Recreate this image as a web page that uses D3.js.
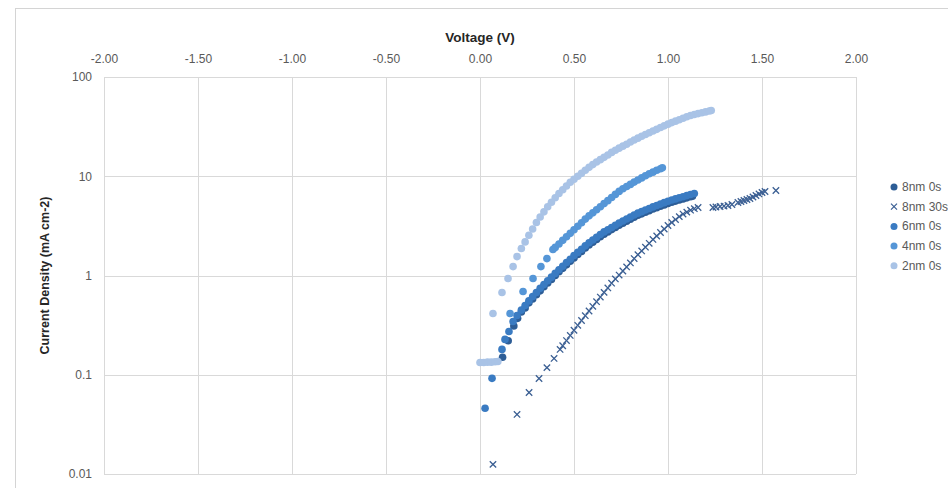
<!DOCTYPE html>
<html>
<head>
<meta charset="utf-8">
<script src="https://cdn.jsdelivr.net/npm/d3@7/dist/d3.min.js"></script>
<style>
  html, body { margin: 0; padding: 0; background: #fff; }
  svg { display: block; font-family: "Liberation Sans", Arial, sans-serif; }
</style>
</head>
<body>
<svg id="chart" width="948" height="488"></svg>
<script>
// J–V sweeps: [voltage (V), current density (mA cm-2)]
const series8nm0s = [
  [0.12,0.15],[0.15,0.22],[0.18,0.31],[0.20,0.37],
  [0.22,0.43],[0.24,0.47],[0.26,0.53],[0.28,0.58],[0.30,0.64],[0.32,0.70],[0.34,0.77],
  [0.36,0.84],[0.38,0.91],[0.40,1.00],[0.42,1.09],[0.44,1.18],[0.46,1.28],[0.48,1.39],
  [0.50,1.50],[0.52,1.63],[0.54,1.75],[0.56,1.89],[0.58,2.03],[0.60,2.16],[0.62,2.31],
  [0.64,2.46],[0.66,2.61],[0.68,2.75],[0.70,2.90],[0.72,3.05],[0.74,3.21],[0.76,3.36],
  [0.78,3.52],[0.80,3.69],[0.82,3.87],[0.84,4.04],[0.86,4.18],[0.88,4.34],[0.90,4.50],
  [0.92,4.67],[0.94,4.82],[0.96,4.98],[0.98,5.14],[1.00,5.31],[1.02,5.48],[1.04,5.62],
  [1.06,5.76],[1.08,5.91],[1.10,6.06],[1.12,6.22],[1.13,6.30]
];
const series8nm30s = [
  [0.069,0.0125],[0.197,0.0398],[0.261,0.0662],[0.314,0.0917],[0.356,0.118],[0.394,0.146],
  [0.426,0.180],[0.44,0.196],[0.46,0.221],[0.48,0.249],[0.50,0.281],[0.52,0.315],
  [0.54,0.352],[0.56,0.394],[0.58,0.439],[0.60,0.489],[0.62,0.545],[0.64,0.606],
  [0.66,0.676],[0.68,0.750],[0.70,0.837],[0.72,0.924],[0.74,1.01],[0.76,1.11],
  [0.78,1.22],[0.80,1.34],[0.82,1.48],[0.84,1.62],[0.86,1.77],[0.88,1.93],[0.90,2.11],
  [0.92,2.31],[0.94,2.50],[0.96,2.71],[0.98,2.94],[1.00,3.19],[1.02,3.42],[1.04,3.66],
  [1.06,3.92],[1.08,4.16],[1.10,4.35],[1.12,4.55],[1.14,4.71],[1.16,4.84],
  [1.239,4.84],[1.255,4.90],[1.277,4.96],[1.298,5.01],[1.319,5.07],[1.340,5.19],
  [1.372,5.44],[1.388,5.57],[1.404,5.70],[1.420,5.83],[1.436,5.97],[1.452,6.18],
  [1.468,6.40],[1.484,6.63],[1.500,6.86],[1.516,7.02],[1.574,7.19]
];
const series6nm0s = [
  [0.027,0.046],[0.064,0.092],[0.117,0.18],[0.133,0.227],[0.154,0.273],[0.176,0.344],
  [0.197,0.395],[0.22,0.448],[0.24,0.498],[0.26,0.555],[0.28,0.613],[0.30,0.674],
  [0.32,0.743],[0.34,0.810],[0.36,0.884],[0.38,0.963],[0.40,1.05],[0.42,1.14],
  [0.44,1.24],[0.46,1.35],[0.48,1.46],[0.50,1.59],[0.52,1.71],[0.54,1.84],[0.56,1.99],
  [0.58,2.14],[0.60,2.28],[0.62,2.43],[0.64,2.59],[0.66,2.75],[0.68,2.89],[0.70,3.05],
  [0.72,3.21],[0.74,3.38],[0.76,3.54],[0.78,3.71],[0.80,3.89],[0.82,4.07],[0.84,4.25],
  [0.86,4.40],[0.88,4.57],[0.90,4.73],[0.92,4.91],[0.94,5.07],[0.96,5.24],[0.98,5.42],
  [1.00,5.59],[1.02,5.76],[1.04,5.91],[1.06,6.07],[1.08,6.22],[1.10,6.38],[1.12,6.55],
  [1.14,6.70]
];
const series4nm0s = [
  [0.160,0.414],[0.229,0.690],[0.282,0.933],[0.324,1.23],[0.356,1.48],[0.388,1.83],
  [0.40,1.92],[0.42,2.08],[0.44,2.26],[0.46,2.46],[0.48,2.66],[0.50,2.89],[0.52,3.14],
  [0.54,3.40],[0.56,3.70],[0.58,3.99],[0.60,4.28],[0.62,4.60],[0.64,4.93],[0.66,5.30],
  [0.68,5.68],[0.70,6.11],[0.72,6.56],[0.74,7.04],[0.76,7.47],[0.78,7.87],[0.80,8.28],
  [0.82,8.73],[0.84,9.17],[0.86,9.63],[0.88,10.1],[0.90,10.6],[0.92,11.0],[0.94,11.5],
  [0.96,11.9],[0.97,12.2]
];
const series2nm0s = [
  [0.00,0.133],[0.02,0.133],[0.04,0.134],[0.06,0.134],[0.08,0.135],[0.095,0.136],
  [0.069,0.414],[0.117,0.674],[0.149,0.933],[0.176,1.23],[0.197,1.55],
  [0.22,1.87],[0.24,2.18],[0.26,2.54],[0.28,2.94],[0.30,3.42],[0.32,3.89],[0.34,4.38],
  [0.36,4.93],[0.38,5.48],[0.40,6.08],[0.42,6.70],[0.44,7.30],[0.46,7.98],[0.48,8.69],
  [0.50,9.32],[0.52,9.99],[0.54,10.7],[0.56,11.5],[0.58,12.3],[0.60,13.1],[0.62,13.9],
  [0.64,14.7],[0.66,15.5],[0.68,16.4],[0.70,17.4],[0.72,18.3],[0.74,19.2],[0.76,20.1],
  [0.78,21.0],[0.80,22.1],[0.82,23.2],[0.84,24.2],[0.86,25.3],[0.88,26.3],[0.90,27.4],
  [0.92,28.6],[0.94,29.7],[0.96,31.0],[0.98,32.2],[1.00,33.5],[1.02,34.7],[1.04,35.9],
  [1.06,37.1],[1.08,38.4],[1.10,39.7],[1.12,41.0],[1.14,41.9],[1.16,42.8],[1.18,43.6],
  [1.20,44.5],[1.22,45.5],[1.23,45.9]
];

const seriesNames = ["8nm 0s", "8nm 30s", "6nm 0s", "4nm 0s", "2nm 0s"];
const voltageTicks = [-2.0, -1.5, -1.0, -0.5, 0.0, 0.5, 1.0, 1.5, 2.0];
const currentTicks = [0.01, 0.1, 1, 10, 100];

const seriesList = [
  { name: seriesNames[0], data: series8nm0s,  color: "#2d5d96", shape: "circle" },
  { name: seriesNames[1], data: series8nm30s, color: "#3b5f93", shape: "cross" },
  { name: seriesNames[2], data: series6nm0s,  color: "#3a7bc2", shape: "circle" },
  { name: seriesNames[3], data: series4nm0s,  color: "#5596d7", shape: "circle" },
  { name: seriesNames[4], data: series2nm0s,  color: "#a9c3e6", shape: "circle" }
];

const svg = d3.select("#chart");
const plot = { left: 104, right: 856, top: 77, bottom: 474 };

const x = d3.scaleLinear().domain([-2, 2]).range([plot.left, plot.right]);
const y = d3.scaleLog().domain([0.01, 100]).range([plot.bottom, plot.top]);

// outer chart frame
svg.append("rect")
  .attr("x", 15.5).attr("y", 8.5).attr("width", 1000).attr("height", 1000)
  .attr("fill", "#fff").attr("stroke", "#d4d4d4").attr("stroke-width", 1);

// gridlines
const grid = svg.append("g").attr("stroke", "#d9d9d9").attr("stroke-width", 1);
grid.selectAll("line.v").data(voltageTicks).join("line")
  .attr("class", "v")
  .attr("x1", d => Math.round(x(d)) + 0.5).attr("x2", d => Math.round(x(d)) + 0.5)
  .attr("y1", plot.top).attr("y2", plot.bottom);
grid.selectAll("line.h").data(currentTicks).join("line")
  .attr("class", "h")
  .attr("x1", plot.left).attr("x2", plot.right)
  .attr("y1", d => Math.round(y(d)) + 0.5).attr("y2", d => Math.round(y(d)) + 0.5);

// axes (labels only)
const xAxis = svg.append("g")
  .attr("transform", `translate(0,${plot.top})`)
  .call(d3.axisTop(x).tickValues(voltageTicks).tickSize(0).tickPadding(14)
    .tickFormat(d => d.toFixed(2)));
const yAxis = svg.append("g")
  .attr("transform", `translate(${plot.left},0)`)
  .call(d3.axisLeft(y).tickValues(currentTicks).tickSize(0).tickPadding(12)
    .tickFormat(d => String(d)));
[xAxis, yAxis].forEach(g => {
  g.select(".domain").remove();
  g.selectAll("text").attr("fill", "#595959").attr("font-size", 12)
    .attr("font-family", "'Liberation Sans', Arial, sans-serif");
});

// axis titles
svg.append("text")
  .attr("x", (plot.left + plot.right) / 2).attr("y", 42)
  .attr("text-anchor", "middle").attr("font-size", 13.5).attr("font-weight", "bold")
  .attr("fill", "#262626").text("Voltage (V)");
svg.append("text")
  .attr("transform", `translate(49,${(plot.top + plot.bottom) / 2}) rotate(-90)`)
  .attr("text-anchor", "middle").attr("font-size", 12.5).attr("font-weight", "bold")
  .attr("fill", "#262626").text("Current Density (mA cm-2)");

// markers
const crossPath = "M-3.2,-3.2L3.2,3.2M-3.2,3.2L3.2,-3.2";
const marks = svg.append("g");
seriesList.forEach(s => {
  const g = marks.append("g");
  if (s.shape === "circle") {
    g.selectAll("circle").data(s.data).join("circle")
      .attr("cx", d => x(d[0])).attr("cy", d => y(d[1]))
      .attr("r", 3.8).attr("fill", s.color);
  } else {
    g.selectAll("path").data(s.data).join("path")
      .attr("transform", d => `translate(${x(d[0])},${y(d[1])})`)
      .attr("d", crossPath).attr("fill", "none")
      .attr("stroke", s.color).attr("stroke-width", 1.3);
  }
});

// legend
const legend = svg.append("g").attr("transform", "translate(894,187)");
const rows = legend.selectAll("g").data(seriesList).join("g")
  .attr("transform", (d, i) => `translate(0,${i * 19.7})`);
rows.each(function (s) {
  const g = d3.select(this);
  if (s.shape === "circle") {
    g.append("circle").attr("r", 3.5).attr("fill", s.color);
  } else {
    g.append("path").attr("d", "M-3,-3L3,3M-3,3L3,-3")
      .attr("stroke", s.color).attr("stroke-width", 1.2).attr("fill", "none");
  }
});
rows.append("text")
  .attr("x", 8).attr("y", 4)
  .attr("font-size", 12).attr("fill", "#595959")
  .text(s => s.name);
</script>
</body>
</html>
